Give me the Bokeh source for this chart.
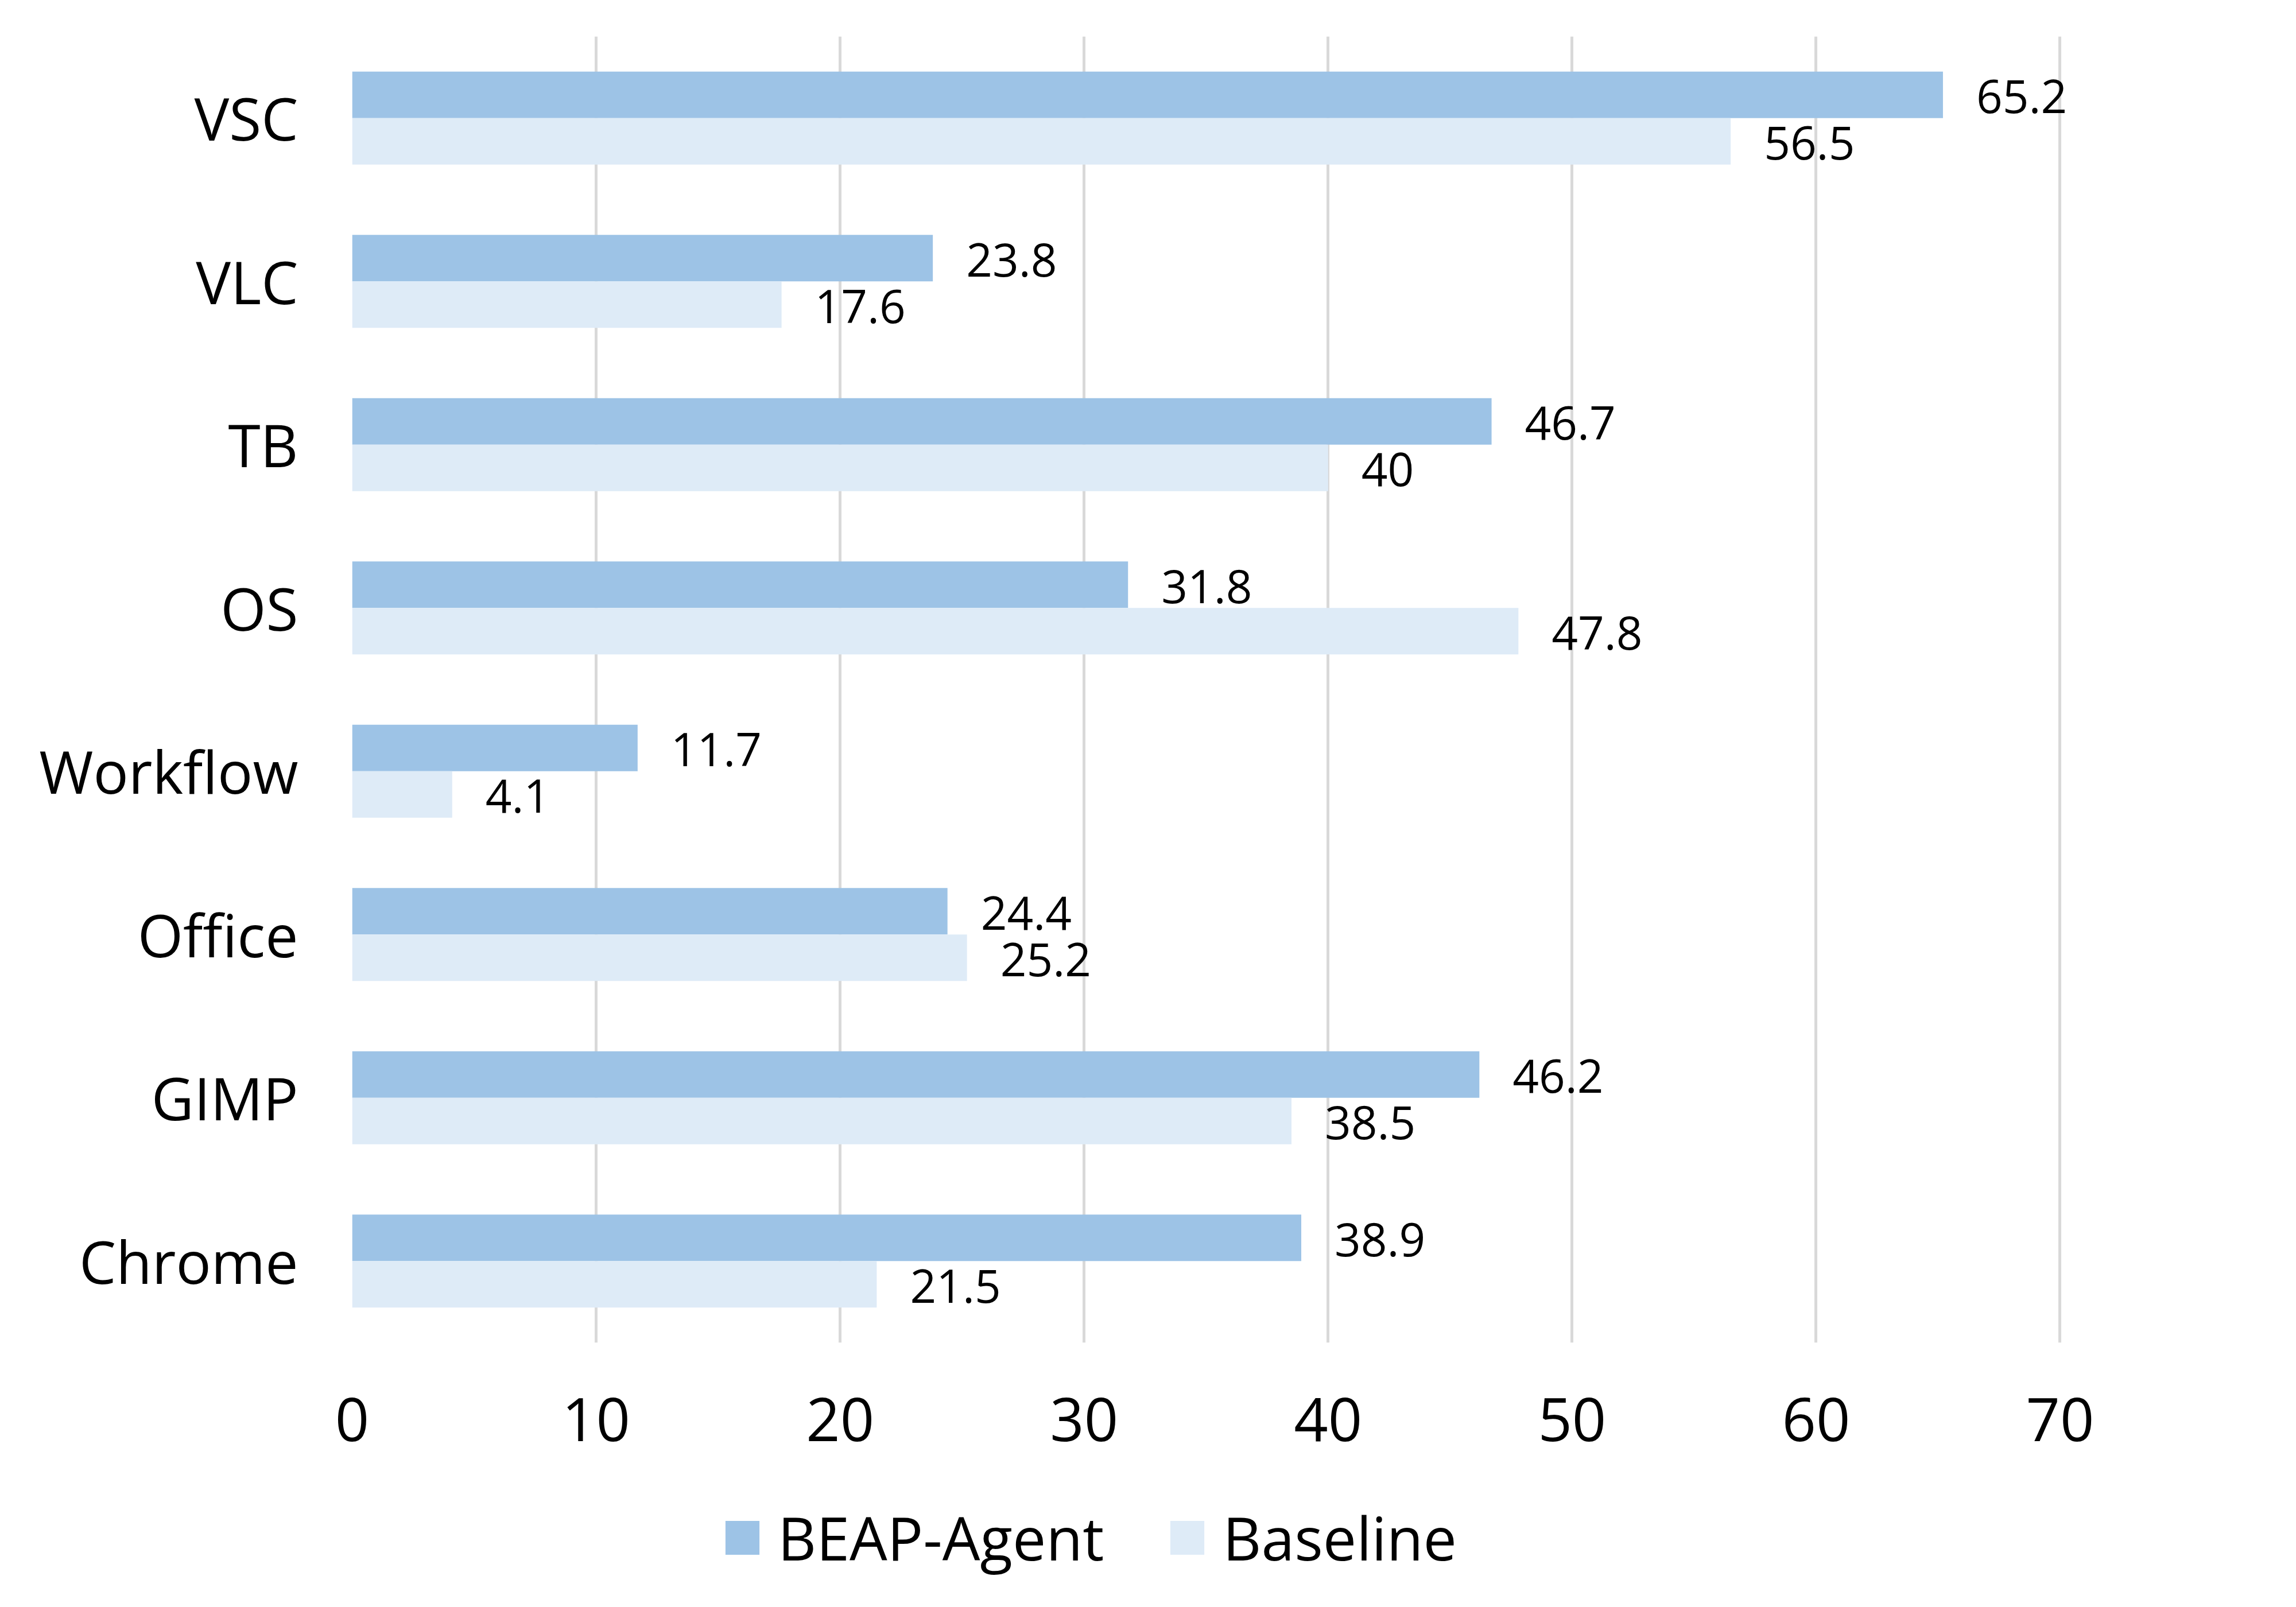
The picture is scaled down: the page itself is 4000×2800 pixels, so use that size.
from bokeh.plotting import figure
from bokeh.layouts import column
from bokeh.models import (ColumnDataSource, FactorRange, Range1d, FixedTicker,
                          Legend, LegendItem)
from bokeh.transform import dodge
from bokeh.core.properties import value
from bokeh.embed import file_html
from bokeh.resources import INLINE

# ---- data ----
categories = ["VSC", "VLC", "TB", "OS", "Workflow", "Office", "GIMP", "Chrome"]
beap_agent = [65.2, 23.8, 46.7, 31.8, 11.7, 24.4, 46.2, 38.9]
baseline = [56.5, 17.6, 40, 47.8, 4.1, 25.2, 38.5, 21.5]
x_ticks = [0, 10, 20, 30, 40, 50, 60, 70]
series_names = ["BEAP-Agent", "Baseline"]

FONT = "Open Sans"
C_BEAP = "#9DC3E6"
C_BASE = "#DEEBF7"
GRID = "#D9D9D9"

src = ColumnDataSource(dict(
    cat=categories,
    beap=beap_agent,
    base=baseline,
    beap_lbl=[f"{v:g}" for v in beap_agent],
    base_lbl=[f"{v:g}" for v in baseline],
))

W = 3984
H_MAIN = 2600
H_LEG = 184
PX_PER_UNIT = 42.5
X_END = 73  # room past the last gridline so value labels are not clipped
LEFT, TOP = 613, 63
FRAME_W = X_END * PX_PER_UNIT
FRAME_H = 2276

p = figure(
    width=W, height=H_MAIN,
    y_range=FactorRange(factors=categories[::-1], range_padding=0, factor_padding=0),
    x_range=Range1d(0, X_END),
    output_backend="svg", toolbar_location=None,
    min_border_left=LEFT, min_border_right=int(round(W - LEFT - FRAME_W)),
    min_border_top=TOP, min_border_bottom=H_MAIN - TOP - FRAME_H,
)
p.outline_line_color = None
p.background_fill_color = "white"
p.border_fill_color = "white"

off = 0.1425
bh = 0.285
p.hbar(y=dodge("cat", off, range=p.y_range), left=0, right="beap", height=bh,
       fill_color=C_BEAP, line_color=None, source=src)
p.hbar(y=dodge("cat", -off, range=p.y_range), left=0, right="base", height=bh,
       fill_color=C_BASE, line_color=None, source=src)

lbl_kw = dict(x_offset=58, y_offset=3, text_align="left", text_baseline="middle",
              text_font=value(FONT), text_font_size=value("80px"), text_color="black",
              source=src)
p.text(x="beap", y=dodge("cat", off, range=p.y_range), text="beap_lbl", **lbl_kw)
p.text(x="base", y=dodge("cat", -off, range=p.y_range), text="base_lbl", **lbl_kw)

# grid
p.ygrid.grid_line_color = None
p.xgrid.ticker = FixedTicker(ticks=x_ticks)
p.xgrid.grid_line_color = GRID
p.xgrid.grid_line_width = 5

# x axis
xa = p.xaxis[0]
xa.ticker = FixedTicker(ticks=x_ticks)
xa.axis_line_color = None
xa.major_tick_line_color = None
xa.minor_tick_line_color = None
xa.major_tick_out = 0
xa.major_label_standoff = 96
xa.major_label_text_font = FONT
xa.major_label_text_font_size = "104px"
xa.major_label_text_color = "black"

# y axis
ya = p.yaxis[0]
ya.axis_line_color = None
ya.major_tick_line_color = None
ya.minor_tick_line_color = None
ya.major_tick_out = 0
ya.major_label_standoff = 94
ya.major_label_text_font = FONT
ya.major_label_text_font_size = "102px"
ya.major_label_text_color = "black"

# ---- legend strip below the chart ----
pl = figure(
    width=W, height=H_LEG, x_range=Range1d(0, 1), y_range=Range1d(0, 1),
    output_backend="svg", toolbar_location=None,
    x_axis_location=None, y_axis_location=None,
    min_border_left=0, min_border_right=0, min_border_top=0, min_border_bottom=0,
)
pl.outline_line_color = None
pl.grid.visible = False
lsrc = ColumnDataSource(dict(y=[-5.0], r=[0.0]))
la = pl.hbar(y="y", left=0, right="r", height=0.1, fill_color=C_BEAP, line_color=None, source=lsrc)
lb = pl.hbar(y="y", left=0, right="r", height=0.1, fill_color=C_BASE, line_color=None, source=lsrc)

legend = Legend(
    items=[LegendItem(label=series_names[0], renderers=[la]),
           LegendItem(label=series_names[1], renderers=[lb])],
    orientation="horizontal", location=(643, 35),
    glyph_width=74, glyph_height=74, label_standoff=25, spacing=108,
    padding=0, margin=0, border_line_color=None, background_fill_alpha=0,
    label_text_font=FONT, label_text_font_size="104px", label_text_color="black",
    label_height=74,
)
pl.add_layout(legend, "center")

layout = column(p, pl, spacing=0)
open("out.html", "w").write(file_html(layout, INLINE))
